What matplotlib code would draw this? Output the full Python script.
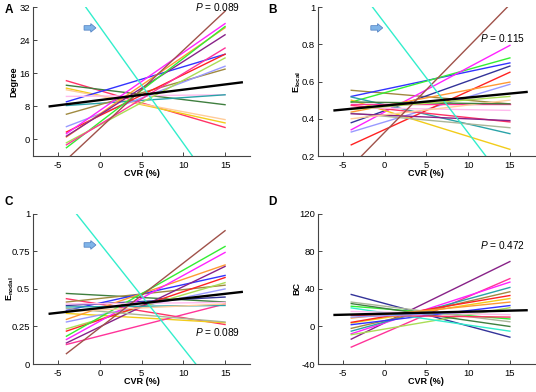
import numpy as np
import matplotlib
matplotlib.use("Agg")
import matplotlib.pyplot as plt
from matplotlib.patches import FancyArrow

plt.rcParams["font.family"] = ["Liberation Sans", "DejaVu Sans"]
plt.rcParams["axes.unicode_minus"] = False
plt.rcParams["mathtext.fontset"] = "custom"
plt.rcParams["mathtext.rm"] = "Liberation Sans"
plt.rcParams["mathtext.it"] = "Liberation Sans:italic"
plt.rcParams["mathtext.bf"] = "Liberation Sans:bold"

# CVR range of the subject fits and of the group fit
cvr_range = [-4, 15]
mean_range = [-6, 17]

# Subject colours (shared order per panel)
colors = {
    "crimson": "#ff3366", "dkgreen": "#3f7f3f", "gold": "#f2cc1a", "blue": "#3333ff",
    "lightpink": "#ffbbee", "teal": "#2aa3a8", "olive": "#a08a40", "lavender": "#9999ff",
    "red": "#ff2222", "orange": "#ff9933", "purple": "#882288", "magenta": "#ff22ff",
    "green": "#33ee33", "lightgreen": "#aadd55", "hotpink": "#ff3399", "brown": "#a0524a",
    "cyan": "#33eecc", "peach": "#ffcc99", "navy": "#333399", "sage": "#aab699",
}

# Panel A: Degree (value at CVR -4, value at CVR 15)
a_names = ["crimson", "dkgreen", "gold", "peach", "blue", "lightpink", "teal", "olive",
           "lavender", "red", "orange", "purple", "magenta", "green", "lightgreen",
           "hotpink", "brown", "cyan"]
a_start = [14.2, 13.1, 12.4, 12.0, 9.1, 10.4, 8.2, 6.1, 3.1, 1.8, 0.6, 0.8, 1.4, -2.0,
           -0.8, -1.3, -4.9, 38.5]
a_end = [2.9, 8.4, 4.0, 4.8, 20.6, 10.8, 10.8, 17.0, 17.7, 20.6, 27.0, 25.3, 28.0, 27.3,
         19.7, 22.1, 31.0, -15.0]
a_mean = [8.0, 13.8]

# Panel B: E_local
b_names = ["olive", "blue", "green", "navy", "magenta", "lavender", "red", "orange",
           "teal", "gold", "crimson", "hotpink", "sage", "purple", "lightpink", "peach",
           "dkgreen", "lightgreen", "brown", "cyan"]
b_start = [0.553, 0.52, 0.49, 0.379, 0.341, 0.329, 0.26, 0.436, 0.517, 0.50, 0.472,
           0.477, 0.43, 0.427, 0.46, 0.40, 0.49, 0.45, 0.144, 1.15]
b_end = [0.48, 0.70, 0.727, 0.683, 0.794, 0.585, 0.65, 0.597, 0.32, 0.236, 0.383,
         0.477, 0.352, 0.39, 0.445, 0.50, 0.48, 0.52, 1.014, 0.03]
b_mean = [0.445, 0.544]

# Panel C: E_nodal
c_names = ["dkgreen", "crimson", "olive", "blue", "navy", "gold", "lavender", "orange",
           "lightgreen", "red", "green", "magenta", "purple", "hotpink", "teal", "sage",
           "lightpink", "peach", "brown", "cyan"]
c_start = [0.47, 0.435, 0.413, 0.357, 0.39, 0.337, 0.28, 0.297, 0.234, 0.219, 0.185,
           0.163, 0.14, 0.13, 0.38, 0.37, 0.40, 0.35, 0.069, 1.084]
c_end = [0.413, 0.263, 0.525, 0.59, 0.446, 0.275, 0.50, 0.66, 0.542, 0.576, 0.783,
         0.743, 0.65, 0.40, 0.39, 0.28, 0.41, 0.40, 0.888, -0.245]
c_mean = [0.335, 0.48]

# Panel D: BC
d_names = ["navy", "purple", "hotpink", "magenta", "teal", "olive", "gold", "lightgreen",
           "red", "blue", "green", "dkgreen", "cyan", "sage", "lightpink", "crimson",
           "orange", "lavender"]
d_start = [34.1, -13.5, -22.0, -7.8, -5.0, -2.0, 3.7, -8.8, 4.4, 1.9, 21.6, 24.4, 19.8,
           26.0, 16.0, 12.0, 9.0, 10.0]
d_end = [-11.4, 69.2, 51.0, 47.3, 41.6, 37.0, 29.8, 20.0, 33.0, 22.3, 8.0, 0.0, -5.0,
         5.0, 12.6, 10.0, 26.0, 17.0]
d_mean = [12.3, 17.3]

x_ticks = [-5, 0, 5, 10, 15]


def style_axes(ax, ylim, yticks, yticklabels, ylabel, label_x):
    """
    MATLAB-like axes: left/bottom spines only, inward ticks.
    """
    ax.set_xlim(-8, 18)
    ax.set_ylim(*ylim)
    ax.set_xticks(x_ticks)
    ax.set_xticklabels([str(t) for t in x_ticks])
    ax.set_yticks(yticks)
    ax.set_yticklabels(yticklabels)
    for side in ["top", "right"]:
        ax.spines[side].set_visible(False)
    for side in ["left", "bottom"]:
        ax.spines[side].set_color("#444444")
        ax.spines[side].set_linewidth(0.8)
    ax.tick_params(direction="in", length=3, width=0.7, labelsize=6.8, colors="#444444",
                   labelcolor="black")
    ax.tick_params(axis="x", pad=3.5)
    ax.tick_params(axis="y", pad=2)
    ax.set_xlabel("CVR (%)", fontsize=6.5, fontweight="bold")
    ax.xaxis.set_label_coords(0.5, -0.115)
    ax.xaxis.label.set_verticalalignment("center")
    ax.set_ylabel(ylabel, fontsize=6.5, fontweight="bold")
    ax.yaxis.label.set_verticalalignment("center")
    ax.yaxis.set_label_coords(label_x, 0.5)


def draw_panel(ax, names, start, end, mean):
    for name, y0, y1 in zip(names, start, end):
        ax.plot(cvr_range, [y0, y1], color=colors[name], lw=1.0)
    ax.plot(mean_range, mean, color="black", lw=1.7, zorder=5)


def add_arrow(ax, x, y):
    # Small block arrow pointing right, in axes-fraction coordinates
    arrow = FancyArrow(x, y, 0.055, 0, width=0.03, head_width=0.058, head_length=0.024,
                       length_includes_head=True, transform=ax.transAxes,
                       fc="#80b4e8", ec="#4a7cc0", lw=0.5, zorder=6)
    ax.add_patch(arrow)


fig = plt.figure(figsize=(5.36, 3.92), dpi=100)
ax_a = fig.add_axes([0.0616, 0.602, 0.405, 0.380])
ax_b = fig.add_axes([0.593, 0.602, 0.405, 0.380])
ax_c = fig.add_axes([0.0616, 0.0714, 0.405, 0.383])
ax_d = fig.add_axes([0.593, 0.0714, 0.405, 0.383])

draw_panel(ax_a, a_names, a_start, a_end, a_mean)
style_axes(ax_a, (-4, 32), [0, 8, 16, 24, 32], ["0", "8", "16", "24", "32"], "Degree",
           -0.088)

draw_panel(ax_b, b_names, b_start, b_end, b_mean)
style_axes(ax_b, (0.2, 1), [0.2, 0.4, 0.6, 0.8, 1], ["0.2", "0.4", "0.6", "0.8", "1"],
           r"$\mathbf{E_{local}}$", -0.095)

draw_panel(ax_c, c_names, c_start, c_end, c_mean)
style_axes(ax_c, (0, 1), [0, 0.25, 0.5, 0.75, 1], ["0", "0.25", "0.5", "0.75", "1"],
           r"$\mathbf{E_{nodal}}$", -0.105)

draw_panel(ax_d, d_names, d_start, d_end, d_mean)
style_axes(ax_d, (-40, 120), [-40, 0, 40, 80, 120], ["-40", "0", "40", "80", "120"], "BC",
           -0.095)

# P values
p_size = 7.3
ax_a.text(0.85, 1.0, r"$\mathit{P}$ = 0.089", transform=ax_a.transAxes, ha="center",
          va="center", fontsize=p_size)
ax_b.text(0.85, 0.79, r"$\mathit{P}$ = 0.115", transform=ax_b.transAxes, ha="center",
          va="center", fontsize=p_size)
ax_c.text(0.85, 0.21, r"$\mathit{P}$ = 0.089", transform=ax_c.transAxes, ha="center",
          va="center", fontsize=p_size)
ax_d.text(0.85, 0.79, r"$\mathit{P}$ = 0.472", transform=ax_d.transAxes, ha="center",
          va="center", fontsize=p_size)

# Arrows marking the outlier subject
add_arrow(ax_a, 0.235, 0.86)
add_arrow(ax_b, 0.244, 0.86)
add_arrow(ax_c, 0.235, 0.793)

# Panel letters
for letter, x, y in [("A", 0.016, 0.99), ("B", 0.508, 0.99), ("C", 0.016, 0.50),
                     ("D", 0.508, 0.50)]:
    fig.text(x, y, letter, fontsize=8.5, fontweight="bold", ha="center", va="top")

fig.savefig("out.png", dpi=100)
